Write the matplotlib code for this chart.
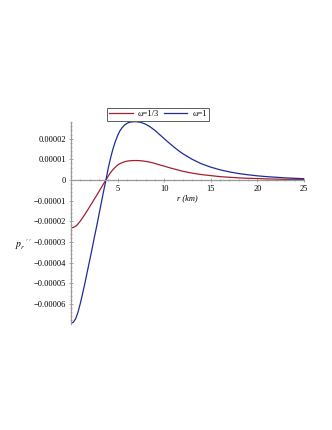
import matplotlib
matplotlib.use("Agg")
import matplotlib.pyplot as plt
import numpy as np

# values (units of 1e-5)
r_vals = [0, 0.25, 0.5, 0.75, 1.0, 1.25, 1.5, 1.75, 2.0, 2.25, 2.5, 2.75, 3.0, 3.25,
          3.5, 3.75, 4.0, 4.25, 4.5, 4.75, 5.0, 5.25, 5.5, 5.75, 6.0, 6.25, 6.5, 6.75,
          7.0, 7.5, 8.0, 8.5, 9.0, 9.5, 10.0, 10.5, 11.0, 11.5, 12.0, 13.0, 14.0, 15.0,
          16.0, 17.0, 18.0, 19.0, 20.0, 21.0, 22.0, 23.0, 24.0, 25.0]
p_third = [-2.32, -2.30, -2.24, -2.13, -1.99, -1.83, -1.66, -1.48, -1.30, -1.12, -0.93,
           -0.75, -0.56, -0.37, -0.18, 0.0, 0.19, 0.36, 0.50, 0.62, 0.72, 0.79, 0.84,
           0.88, 0.91, 0.925, 0.935, 0.94, 0.94, 0.93, 0.90, 0.86, 0.80, 0.73, 0.67,
           0.60, 0.54, 0.48, 0.42, 0.33, 0.26, 0.21, 0.16, 0.13, 0.10, 0.08, 0.07, 0.05,
           0.04, 0.03, 0.03, 0.02]
p_one = [-6.94, -6.89, -6.72, -6.40, -5.98, -5.49, -4.98, -4.44, -3.90, -3.36, -2.79,
         -2.25, -1.68, -1.11, -0.54, 0.0, 0.58, 1.07, 1.50, 1.85, 2.15, 2.38, 2.54, 2.66,
         2.74, 2.79, 2.81, 2.82, 2.82, 2.79, 2.70, 2.57, 2.40, 2.20, 2.00, 1.80, 1.61,
         1.43, 1.27, 1.00, 0.78, 0.62, 0.49, 0.39, 0.31, 0.25, 0.20, 0.16, 0.13, 0.10,
         0.08, 0.06]

xticks = [5, 10, 15, 20, 25]
yticks = [-6, -5, -4, -3, -2, -1, 0, 1, 2]
ylabels = ["\u22120.00006", "\u22120.00005", "\u22120.00004", "\u22120.00003",
           "\u22120.00002", "\u22120.00001", "0", "0.00001", "0.00002"]

plt.rcParams["font.family"] = "Liberation Serif"
plt.rcParams["mathtext.fontset"] = "stix"

fig = plt.figure(figsize=(3.32, 4.30), dpi=100)
ax = fig.add_axes([71 / 332, 1 - 323.5 / 430, 233 / 332, 202 / 430])

scale = 1e-5
ax.plot(r_vals, np.array(p_third) * scale, color="#a3202e", lw=0.9, label="\u03c9=1/3")
ax.plot(r_vals, np.array(p_one) * scale, color="#1f2b99", lw=0.9, label="\u03c9=1")

ax.set_xlim(0, 25)
ax.set_ylim(-6.95e-5, 2.83e-5)

for s in ["top", "right"]:
    ax.spines[s].set_visible(False)
ax.spines["left"].set_position(("data", 0))
ax.spines["bottom"].set_position(("data", 0))
for s in ["left", "bottom"]:
    ax.spines[s].set_color("#999999")
    ax.spines[s].set_linewidth(0.9)

ax.set_xticks(xticks)
ax.set_xticklabels([str(t) for t in xticks])
ax.set_xticks(np.arange(1, 26), minor=True)
ax.set_yticks(np.array(yticks) * scale)
ax.set_yticklabels(ylabels)
ax.set_yticks(np.arange(-6.8, 2.81, 0.2) * scale, minor=True)
ax.tick_params(which="major", direction="inout", length=3, width=0.6, color="#999999",
               labelsize=6, pad=2)
ax.tick_params(which="minor", direction="inout", length=1.5, width=0.5, color="#999999")

fig.text(187 / 332, 1 - 198 / 430, "r (km)", fontsize=6, style="italic",
         ha="center", va="center")
fig.text(24 / 332, 1 - 245 / 430, r"$p_r\,'\,'$", fontsize=7, ha="center", va="center")

leg = fig.legend(loc="center", bbox_to_anchor=(158 / 332, 1 - 114 / 430), ncol=2,
                 fontsize=6, frameon=True, fancybox=False, handlelength=2.8,
                 handletextpad=0.6, columnspacing=0.6, borderpad=0.3,
                 borderaxespad=0)
leg.get_frame().set_edgecolor("#333333")
leg.get_frame().set_linewidth(0.7)

fig.savefig("out.png", dpi=100)
